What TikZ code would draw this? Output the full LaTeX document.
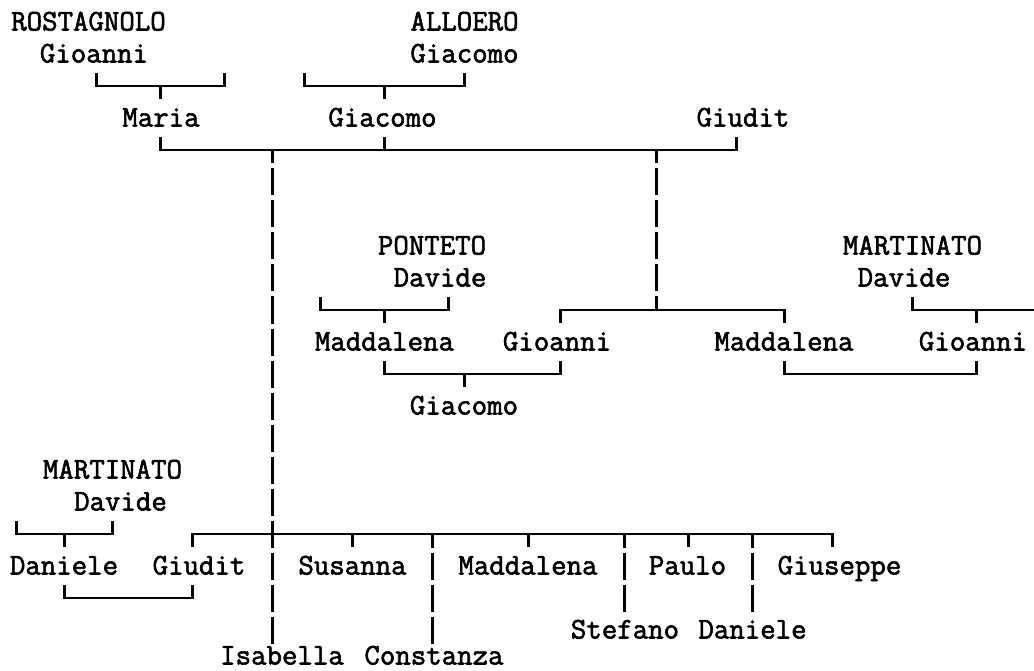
\documentclass[tikz,border=0pt]{standalone}
\usepackage{fontspec}
\newfontfamily\namefont{Latin Modern Mono}[FakeBold=2]
\begin{document}
\begin{tikzpicture}[x=1pt,y=-1pt,
  person/.style={font=\namefont\fontsize{30}{36}\selectfont, anchor=base, inner sep=0pt},
  bar/.style={line width=2.2pt, line join=miter, line cap=butt},
  dropline/.style={bar, dash pattern=on 27pt off 5pt, dash phase=13.5pt}]
\fill[white] (0,0) rectangle (1034,671);
\useasboundingbox (0,0) rectangle (1034,671);

% ---- names ----
\node[person] (rostagnolo) at (88.5,30.5) {ROSTAGNOLO};
\node[person] (alloero)    at (464.5,30.5) {ALLOERO};
\node[person] (gioanniR)   at (94,62.5) {Gioanni};
\node[person] (giacomoA)   at (464.5,62.5) {Giacomo};
\node[person] (maria)      at (161,126.5) {Maria};
\node[person] (giacomo)    at (382.5,126.5) {Giacomo};
\node[person] (giudit)     at (743,126.5) {Giudit};
\node[person] (ponteto)    at (432,254.5) {PONTETO};
\node[person] (martinatoA) at (912.5,254.5) {MARTINATO};
\node[person] (davideP)    at (440,286.5) {Davide};
\node[person] (davideM)    at (904,286.5) {Davide};
\node[person] (maddP)      at (384.5,350.5) {Maddalena};
\node[person] (gioanniG)   at (557,350.5) {Gioanni};
\node[person] (maddG)      at (784,350.5) {Maddalena};
\node[person] (gioanniM)   at (973,350.5) {Gioanni};
\node[person] (giacomoG)   at (464,414.5) {Giacomo};
\node[person] (martinatoB) at (112.5,478.5) {MARTINATO};
\node[person] (davideB)    at (120.5,510.5) {Davide};
\node[person] (daniele)    at (64,574.5) {Daniele};
\node[person] (giuditC)    at (199,574.5) {Giudit};
\node[person] (susanna)    at (352.5,574.5) {Susanna};
\node[person] (maddC)      at (528,574.5) {Maddalena};
\node[person] (paulo)      at (687.5,574.5) {Paulo};
\node[person] (giuseppe)   at (839.5,574.5) {Giuseppe};
\node[person] (stefano)    at (625,638.5) {Stefano};
\node[person] (danieleC)   at (752.5,638.5) {Daniele};
\node[person] (isabella)   at (282,664.5) {Isabella};
\node[person] (constanza)  at (434,664.5) {Constanza};

% ---- junction points ----
% row 2
\coordinate (a1) at (96.5,86);  \coordinate (am) at (160.5,86);  \coordinate (a2) at (224.5,86);
\coordinate (b1) at (304.5,86); \coordinate (bm) at (384.5,86);  \coordinate (b2) at (464.5,86);
% row 4
\coordinate (m1) at (160.5,150); \coordinate (mg) at (384.5,150);
\coordinate (mA) at (272.5,150); \coordinate (mB) at (656.5,150); \coordinate (m2) at (736.5,150);
% row 9
\coordinate (c1) at (320.5,310); \coordinate (cm) at (384.5,310); \coordinate (c2) at (448.5,310);
\coordinate (d1) at (560.5,310); \coordinate (dm) at (656.5,310); \coordinate (d2) at (784.5,310);
\coordinate (e1) at (912.5,310); \coordinate (em) at (976.5,310); \coordinate (e2) at (1034,310);
% row 11
\coordinate (f1) at (384.5,374); \coordinate (fm) at (464.5,374); \coordinate (f2) at (560.5,374);
\coordinate (g1) at (784.5,374); \coordinate (g2) at (976.5,374);
% row 16
\coordinate (h1) at (16.5,534);  \coordinate (hm) at (64.5,534);  \coordinate (h2) at (112.5,534);
\coordinate (k1) at (192.5,534); \coordinate (kS) at (352.5,534); \coordinate (kC) at (432.5,534);
\coordinate (kM) at (528.5,534); \coordinate (kF) at (624.5,534); \coordinate (kP) at (688.5,534);
\coordinate (kD) at (752.5,534); \coordinate (k2) at (832.5,534);
% row 18
\coordinate (j1) at (64.5,598);  \coordinate (j2) at (192.5,598);
% ends of long drops
\coordinate (isaEnd) at (272.5,643.5); \coordinate (conEnd) at (432.5,643.5);
\coordinate (stfEnd) at (624.5,611.5); \coordinate (danEnd) at (752.5,611.5);

% ---- row 2 ----
\draw[bar] (a1) ++(0,-13) -- (a1) -- (a2) -- ++(0,-13);
\draw[bar] (am) -- ++(0,13);
\draw[bar] (b1) ++(0,-13) -- (b1) -- (b2) -- ++(0,-13);
\draw[bar] (bm) -- ++(0,13);
% ---- row 4 ----
\draw[bar] (m1) ++(0,-13) -- (m1) -- (m2) -- ++(0,-13);
\draw[bar] (mg) -- ++(0,-13);
\draw[dropline] (mA) -- (isaEnd);
\draw[dropline] (mB) -- (dm);
% ---- row 9 ----
\draw[bar] (c1) ++(0,-13) -- (c1) -- (c2) -- ++(0,-13);
\draw[bar] (cm) -- ++(0,13);
\draw[bar] (d1) ++(0,13) -- (d1) -- (d2) -- ++(0,13);
\draw[bar] (e1) ++(0,-13) -- (e1) -- (e2);
\draw[bar] (em) -- ++(0,13);
% ---- row 11 ----
\draw[bar] (f1) ++(0,-13) -- (f1) -- (f2) -- ++(0,-13);
\draw[bar] (fm) -- ++(0,13);
\draw[bar] (g1) ++(0,-13) -- (g1) -- (g2) -- ++(0,-13);
% ---- row 16 ----
\draw[bar] (h1) ++(0,-13) -- (h1) -- (h2) -- ++(0,-13);
\draw[bar] (hm) -- ++(0,13);
\draw[bar] (k1) ++(0,13) -- (k1) -- (k2) -- ++(0,13);
\draw[bar] (kS) -- ++(0,13);
\draw[bar] (kM) -- ++(0,13);
\draw[bar] (kP) -- ++(0,13);
\draw[dropline] (kC) -- (conEnd);
\draw[dropline] (kF) -- (stfEnd);
\draw[dropline] (kD) -- (danEnd);
% ---- row 18 ----
\draw[bar] (j1) ++(0,-13) -- (j1) -- (j2) -- ++(0,-13);
\end{tikzpicture}
\end{document}
